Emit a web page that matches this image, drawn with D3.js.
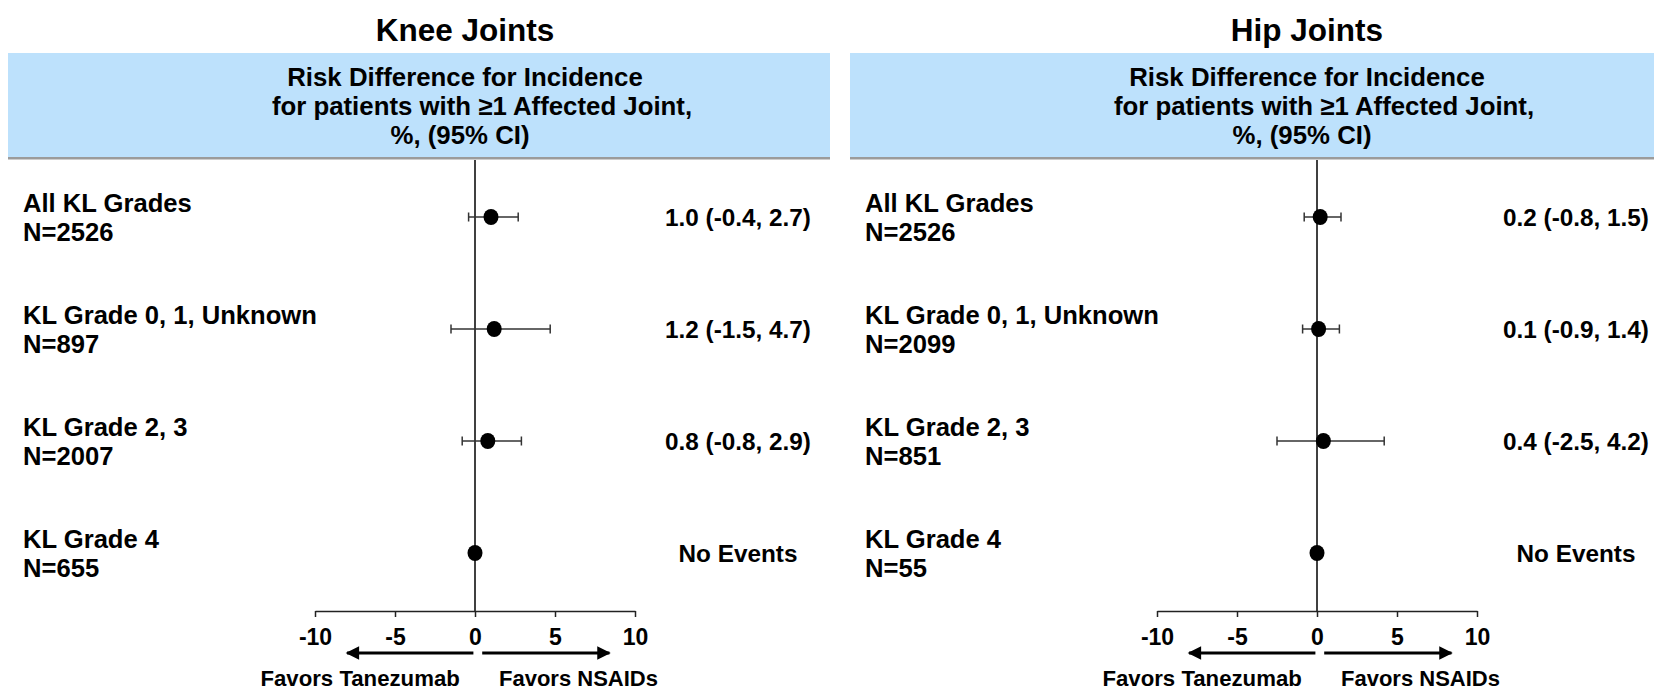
<!DOCTYPE html>
<html>
<head>
<meta charset="utf-8">
<script src="https://cdn.jsdelivr.net/npm/d3@7/dist/d3.min.js"></script>
<style>
  html, body { margin: 0; padding: 0; background: #fff; }
  svg { display: block; }
  text { font-family: "Liberation Sans", Arial, sans-serif; font-weight: bold; fill: #000; }
</style>
</head>
<body>
<svg id="chart" width="1654" height="690"></svg>
<script>
// ---------------- data ----------------
const panelTitles = ["Knee Joints", "Hip Joints"];
const headerLines = ["Risk Difference for Incidence", "for patients with \u22651 Affected Joint,", "%, (95% CI)"];
const categories = ["All KL Grades", "KL Grade 0, 1, Unknown", "KL Grade 2, 3", "KL Grade 4"];
const kneeN = [2526, 897, 2007, 655];
const hipN = [2526, 2099, 851, 55];
const kneeEst = [1.0, 1.2, 0.8, 0];
const kneeLow = [-0.4, -1.5, -0.8, null];
const kneeHigh = [2.7, 4.7, 2.9, null];
const kneeLabels = ["1.0 (-0.4, 2.7)", "1.2 (-1.5, 4.7)", "0.8 (-0.8, 2.9)", "No Events"];
const hipEst = [0.2, 0.1, 0.4, 0];
const hipLow = [-0.8, -0.9, -2.5, null];
const hipHigh = [1.5, 1.4, 4.2, null];
const hipLabels = ["0.2 (-0.8, 1.5)", "0.1 (-0.9, 1.4)", "0.4 (-2.5, 4.2)", "No Events"];
const xTicks = [-10, -5, 0, 5, 10];
const xTickLabels = ["-10", "-5", "0", "5", "10"];
const favorLabels = ["Favors Tanezumab", "Favors NSAIDs"];

// ---------------- layout ----------------
const svg = d3.select("#chart");
const panelOffset = 842;
const panels = [
  { title: panelTitles[0], n: kneeN, est: kneeEst, lo: kneeLow, hi: kneeHigh, lab: kneeLabels, valDx: 263 },
  { title: panelTitles[1], n: hipN, est: hipEst, lo: hipLow, hi: hipHigh, lab: hipLabels, valDx: 259 }
];

const y = d3.scalePoint().domain(categories).range([217, 553]);
const axisY = 611;

panels.forEach((p, pi) => {
  const ox = pi * panelOffset;
  const zeroX = 475 + ox;
  const x = d3.scaleLinear().domain([-10, 10]).range([zeroX - 160, zeroX + 160]);
  const g = svg.append("g");

  // title
  g.append("text").attr("x", zeroX - 10).attr("y", 41)
    .attr("text-anchor", "middle").style("font-size", "31.5px").text(p.title);

  // header box
  g.append("rect").attr("x", 8 + ox).attr("y", 53).attr("width", 822).attr("height", 105)
    .attr("fill", "#bde1fc");
  g.append("rect").attr("x", 8 + ox).attr("y", 157).attr("width", 822).attr("height", 2.5)
    .attr("fill", "#9b9b9b");
  const hdrOffsets = [-10, 7, -15];
  headerLines.forEach((t, i) => {
    g.append("text").attr("x", zeroX + hdrOffsets[i]).attr("y", 86 + i * 29)
      .attr("text-anchor", "middle").style("font-size", "25.8px").text(t);
  });

  // zero line
  g.append("line").attr("x1", x(0)).attr("x2", x(0)).attr("y1", 160).attr("y2", axisY)
    .attr("stroke", "#000").attr("stroke-width", 1.5);

  // axis
  const ax = g.append("g").attr("transform", `translate(0,${axisY})`)
    .call(d3.axisBottom(x).tickValues(xTicks).tickFormat((d, i) => xTickLabels[i])
      .tickSize(6).tickSizeOuter(0).tickPadding(12));
  ax.select(".domain").attr("stroke", "#222").attr("stroke-width", 1.5);
  ax.selectAll(".tick line").attr("stroke", "#222").attr("stroke-width", 1.5);
  ax.selectAll(".tick text").style("font-size", "23px").style("font-family", "'Liberation Sans', Arial, sans-serif")
    .style("font-weight", "bold").attr("fill", "#000");

  // favors arrows
  const arrowY = 653;
  const defsId = "arrow" + pi;
  svg.append("defs").append("marker").attr("id", defsId)
    .attr("viewBox", "0 0 10 10").attr("refX", 9).attr("refY", 5)
    .attr("markerWidth", 5).attr("markerHeight", 4.5).attr("orient", "auto-start-reverse")
    .attr("markerUnits", "strokeWidth")
    .append("path").attr("d", "M0,0 L10,5 L0,10 Z").attr("fill", "#000");
  g.append("line").attr("x1", x(-0.1)).attr("x2", x(-8)).attr("y1", arrowY).attr("y2", arrowY)
    .attr("stroke", "#000").attr("stroke-width", 3).attr("marker-end", `url(#${defsId})`);
  g.append("line").attr("x1", x(0.45)).attr("x2", x(8.4)).attr("y1", arrowY).attr("y2", arrowY)
    .attr("stroke", "#000").attr("stroke-width", 3).attr("marker-end", `url(#${defsId})`);
  g.append("text").attr("x", x(-0.95)).attr("y", 686).attr("text-anchor", "end")
    .style("font-size", "22.2px").text(favorLabels[0]);
  g.append("text").attr("x", x(1.5)).attr("y", 686).attr("text-anchor", "start")
    .style("font-size", "22px").text(favorLabels[1]);

  // rows
  categories.forEach((c, i) => {
    const cy = y(c);
    g.append("text").attr("x", 23 + ox).attr("y", cy - 5).style("font-size", "25.6px").text(c);
    g.append("text").attr("x", 23 + ox).attr("y", cy + 24).style("font-size", "25.6px").text("N=" + p.n[i]);

    if (p.lo[i] !== null) {
      g.append("line").attr("x1", x(p.lo[i])).attr("x2", x(p.hi[i])).attr("y1", cy).attr("y2", cy)
        .attr("stroke", "#333").attr("stroke-width", 1.5);
      [p.lo[i], p.hi[i]].forEach(v => {
        g.append("line").attr("x1", x(v)).attr("x2", x(v)).attr("y1", cy - 4.5).attr("y2", cy + 4.5)
          .attr("stroke", "#333").attr("stroke-width", 1.5);
      });
    }
    g.append("ellipse").attr("cx", x(p.est[i])).attr("cy", cy).attr("rx", 7.5).attr("ry", 8)
      .attr("fill", "#000");

    g.append("text").attr("x", zeroX + p.valDx).attr("y", cy + 8.5).attr("text-anchor", "middle")
      .style("font-size", "24.3px").text(p.lab[i]);
  });
});
</script>
</body>
</html>
